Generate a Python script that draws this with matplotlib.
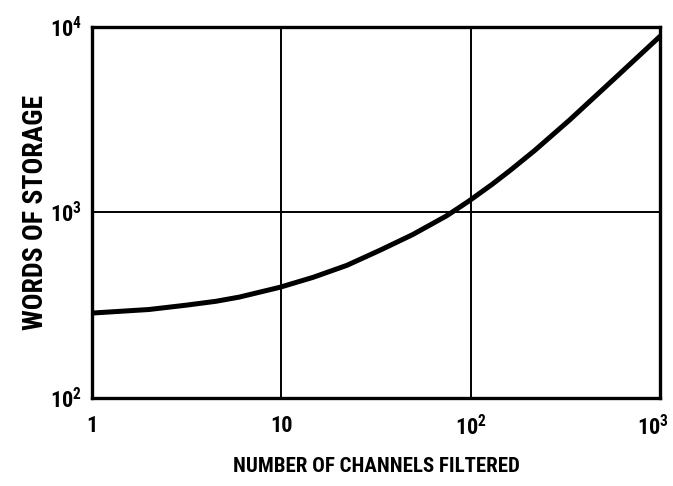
import matplotlib
matplotlib.use("Agg")
import matplotlib.pyplot as plt
import matplotlib.transforms as mtransforms
from matplotlib import font_manager

# Data
channels = [1, 2, 3.1, 4.5, 6, 9.8, 14.7, 22.2, 33.1, 49.4, 74.7, 97.6, 130, 161, 218, 333, 611, 1000]
storage = [287, 300, 316, 332, 350, 395, 447, 519, 625, 760, 960, 1150, 1420, 1680, 2160, 3150, 5580, 8900]

x_ticks = [1, 10, 100, 1000]
x_ticklabels = ["1", "10", "10$^{2}$", "10$^{3}$"]
y_ticks = [100, 1000, 10000]
y_ticklabels = ["10$^{2}$", "10$^{3}$", "10$^{4}$"]

names = {f.name for f in font_manager.fontManager.ttflist}
FAM = [f for f in ["Roboto Condensed", "DejaVu Sans"] if f in names]
plt.rcParams["font.family"] = FAM
plt.rcParams["mathtext.default"] = "regular"

fig = plt.figure(figsize=(6.73, 4.86), dpi=100)
ax = fig.add_axes([0.1367, 0.181, 0.844, 0.7636])
ax.set_xscale("log")
ax.set_yscale("log")
ax.set_xlim(1, 1000)
ax.set_ylim(100, 10000)

ax.plot(channels, storage, color="black", lw=3.6, solid_capstyle="round",
        solid_joinstyle="round", zorder=3)

ax.set_xticks(x_ticks)
ax.set_xticklabels(x_ticklabels)
ax.set_yticks(y_ticks)
ax.set_yticklabels(y_ticklabels)
ax.minorticks_off()
ax.tick_params(axis="both", length=0, labelsize=16)
ax.tick_params(axis="x", pad=12)
ax.tick_params(axis="y", pad=7)
for lab in ax.get_xticklabels() + ax.get_yticklabels():
    lab.set_fontweight("bold")

# keep the last x tick label inside the figure
last = ax.get_xticklabels()[-1]
last.set_transform(last.get_transform() +
                   mtransforms.ScaledTranslation(-7 / 100, 0, fig.dpi_scale_trans))

ax.grid(True, color="black", lw=1.4)
for s in ax.spines.values():
    s.set_linewidth(2.4)

ax.set_xlabel("NUMBER OF CHANNELS FILTERED", fontsize=15, fontweight="bold", labelpad=12)
ax.set_ylabel("WORDS OF STORAGE", fontsize=20, fontweight="bold", labelpad=1)

fig.savefig("out.png", dpi=100)
